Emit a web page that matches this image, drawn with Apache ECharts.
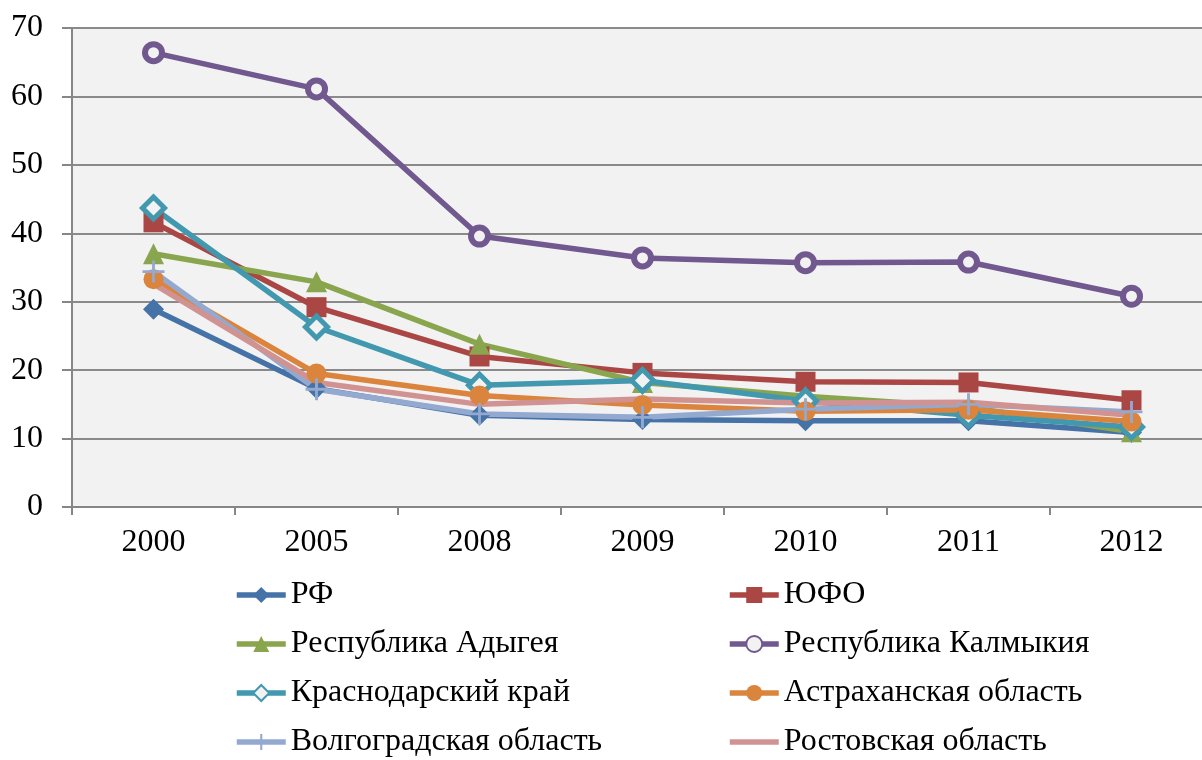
<!DOCTYPE html>
<html>
<head>
<meta charset="utf-8">
<style>
  html, body { margin: 0; padding: 0; background: #fff; overflow: hidden; }
  #chart { width: 1213px; height: 760px; }
</style>
<script src="https://cdn.jsdelivr.net/npm/echarts@6/dist/echarts.min.js"></script>
</head>
<body>
<div id="chart"></div>
<script>
// categories (years)
var years = ['2000', '2005', '2008', '2009', '2010', '2011', '2012'];

// values
var rf = [28.9, 17.3, 13.4, 12.8, 12.6, 12.6, 10.9];
var ufo = [41.6, 29.2, 22.0, 19.6, 18.3, 18.2, 15.6];
var adygea = [37.0, 32.9, 23.8, 18.2, 16.2, 14.6, 11.0];
var kalmykia = [66.4, 61.1, 39.6, 36.4, 35.7, 35.8, 30.8];
var krasnodar = [43.7, 26.3, 17.8, 18.5, 15.5, 13.4, 11.7];
var astrakhan = [33.3, 19.5, 16.3, 14.9, 14.0, 14.2, 12.5];
var volgograd = [34.4, 17.2, 13.6, 13.1, 14.3, 15.0, 13.9];
var rostov = [32.6, 18.2, 15.0, 15.8, 15.2, 15.3, 13.4];

var font = 'Liberation Serif, Times New Roman, serif';
var plotBg = '#f2f2f2';
var plusPath = 'path://M-1.3,-10L1.3,-10L1.3,-1.3L10,-1.3L10,1.3L1.3,1.3L1.3,10L-1.3,10L-1.3,1.3L-10,1.3L-10,-1.3L-1.3,-1.3Z';

function line(name, data, color, symbol, size, fill, border) {
  return {
    name: name,
    type: 'line',
    data: data,
    symbol: symbol,
    symbolSize: size,
    showSymbol: size > 0,
    lineStyle: { color: color, width: 5.5 },
    itemStyle: {
      color: fill || color,
      borderColor: color,
      borderWidth: border || 0
    },
    emphasis: { disabled: true },
    animation: false
  };
}

var chart = echarts.init(document.getElementById('chart'));

function legendCol(left, names) {
  return {
    orient: 'vertical',
    left: left,
    top: 579,
    height: 220,
    padding: 0,
    itemWidth: 49,
    itemHeight: 20,
    itemGap: 17,
    lineStyle: { width: 5.5 },
    textStyle: { fontFamily: font, fontSize: 32, color: '#000', lineHeight: 32 },
    data: names
  };
}

chart.setOption({
  backgroundColor: '#fff',
  grid: {
    left: 72,
    right: 0,
    top: 28,
    bottom: 253,
    show: true,
    backgroundColor: plotBg,
    borderWidth: 0
  },
  legend: [
    legendCol(234, ['РФ', 'Республика Адыгея', 'Краснодарский край', 'Волгоградская область']),
    legendCol(727, ['ЮФО', 'Республика Калмыкия', 'Астраханская область', 'Ростовская область'])
  ],
  xAxis: {
    type: 'category',
    data: years,
    boundaryGap: true,
    axisLine: { lineStyle: { color: '#868686', width: 2 } },
    axisTick: { show: true, length: 8, lineStyle: { color: '#868686', width: 2 } },
    axisLabel: { fontFamily: font, fontSize: 32, color: '#000', margin: 20 },
    splitLine: { show: false }
  },
  yAxis: {
    type: 'value',
    min: 0,
    max: 70,
    interval: 10,
    axisLine: { show: true, lineStyle: { color: '#868686', width: 2 } },
    axisTick: { show: true, length: 10, lineStyle: { color: '#868686', width: 2 } },
    axisLabel: { fontFamily: font, fontSize: 32, color: '#000', margin: 29 },
    splitLine: { lineStyle: { color: '#8a8a8a', width: 2 } }
  },
  series: [
    line('РФ', rf, '#4572A7', 'diamond', 21),
    line('ЮФО', ufo, '#AA4643', 'rect', 20),
    line('Республика Адыгея', adygea, '#89A54E', 'triangle', 21),
    line('Республика Калмыкия', kalmykia, '#71588F', 'circle', 17, plotBg, 6),
    line('Краснодарский край', krasnodar, '#4198AF', 'diamond', 22, plotBg, 5),
    line('Астраханская область', astrakhan, '#DB843D', 'circle', 20),
    line('Волгоградская область', volgograd, '#93A9CF', plusPath, 22),
    // no markers: invisible symbol so the legend shows only the line
    line('Ростовская область', rostov, '#D19392', 'circle', 0, 'rgba(0,0,0,0)')
  ]
});
</script>
</body>
</html>
